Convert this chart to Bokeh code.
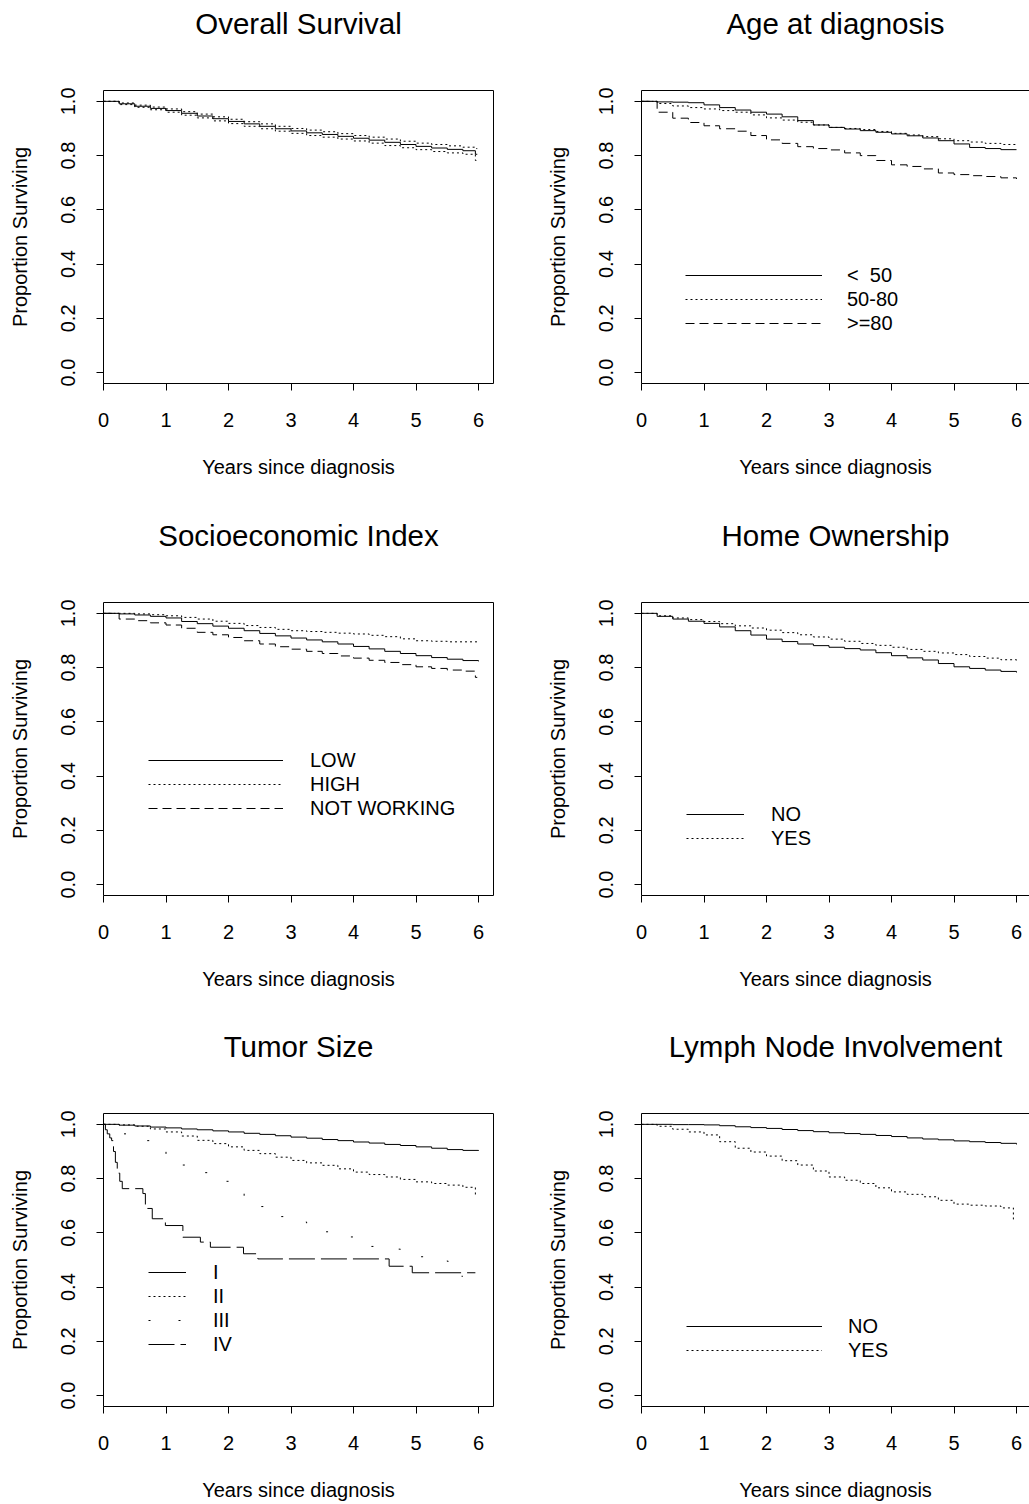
from bokeh.plotting import figure
from bokeh.models import (Range1d, LinearAxis, FixedTicker, PrintfTickFormatter,
                          Legend, LegendItem)
from bokeh.layouts import gridplot
from bokeh.embed import file_html
from bokeh.resources import INLINE

# ---------------- data ----------------
grid_t = [0, .25, .5, .75, 1, 1.25, 1.5, 1.75, 2, 2.25, 2.5, 2.75, 3, 3.25, 3.5,
          3.75, 4, 4.25, 4.5, 4.75, 5, 5.25, 5.5, 5.75, 6]

# Overall survival with confidence band
os_t = [0, .25, .5, .75, 1, 1.25, 1.5, 1.75, 2, 2.25, 2.5, 2.75, 3, 3.25, 3.5,
        3.75, 4, 4.25, 4.5, 4.75, 5, 5.25, 5.5, 5.75, 5.95, 5.98]
os_est = [1.000, .991, .982, .974, .966, .956, .946, .936, .926, .917, .908, .899, .891,
          .884, .878, .871, .864, .857, .849, .841, .834, .828, .823, .818, .805, .805]
os_hi = [1.000, .994, .986, .979, .972, .962, .953, .943, .934, .925, .917, .908, .900,
         .894, .888, .881, .874, .868, .861, .853, .846, .841, .836, .831, .826, .826]
os_lo = [1.000, .988, .978, .969, .960, .949, .939, .928, .918, .908, .899, .890, .882,
         .874, .868, .861, .854, .846, .837, .829, .822, .815, .810, .805, .782, .782]

# Age at diagnosis
age_labels = ["<  50", "50-80", ">=80"]
age_lt50 = [1.0, .998, .997, .995, .987, .977, .968, .960, .953, .943, .929, .913, .904,
            .898, .892, .886, .880, .873, .865, .855, .843, .830, .826, .822, .822]
age_50_80 = [1.0, .992, .983, .977, .972, .966, .960, .950, .939, .931, .923, .913, .904,
             .900, .896, .889, .882, .876, .870, .862, .855, .850, .845, .841, .837]
age_ge80 = [1.0, .960, .938, .922, .910, .899, .890, .874, .858, .845, .833, .826, .821,
            .810, .800, .782, .766, .760, .751, .736, .730, .726, .723, .718, .714]

# Socioeconomic index
ses_labels = ["LOW", "HIGH", "NOT WORKING"]
ses_low = [1.0, .998, .994, .989, .983, .970, .962, .953, .945, .936, .926, .917, .909,
           .902, .895, .887, .878, .869, .860, .852, .844, .837, .831, .826, .823]
ses_high = [1.0, 1.0, .998, .995, .991, .985, .979, .971, .963, .955, .948, .941, .936,
            .933, .930, .927, .924, .919, .914, .906, .899, .897, .895, .895, .895]
ses_nw_t = [0, .25, .5, .75, 1, 1.25, 1.5, 1.75, 2, 2.25, 2.5, 2.75, 3, 3.25, 3.5,
            3.75, 4, 4.25, 4.5, 4.75, 5, 5.25, 5.5, 5.75, 5.95, 5.98]
ses_nw = [1.0, .979, .973, .965, .957, .945, .930, .921, .911, .899, .887, .877, .868,
          .860, .852, .843, .835, .827, .819, .811, .803, .797, .791, .787, .764, .764]

# Home ownership
home_labels = ["NO", "YES"]
home_no = [1.0, .989, .979, .971, .963, .950, .936, .920, .905, .896, .887, .881, .875,
           .870, .865, .855, .844, .836, .828, .815, .803, .797, .791, .786, .782]
home_yes = [1.0, .991, .983, .977, .970, .962, .954, .946, .938, .929, .921, .913, .905,
            .897, .889, .882, .875, .867, .860, .854, .848, .841, .835, .829, .823]

# Tumor size
tum_labels = ["I", "II", "III", "IV"]
tum_i = [1.0, .997, .994, .990, .987, .983, .980, .976, .972, .967, .963, .958, .953,
         .949, .944, .940, .935, .931, .926, .922, .917, .912, .907, .904, .902]
tum_ii_t = [0, .25, .5, .75, 1, 1.25, 1.5, 1.75, 2, 2.25, 2.5, 2.75, 3, 3.25, 3.5,
            3.75, 4, 4.25, 4.5, 4.75, 5, 5.25, 5.5, 5.75, 5.95, 5.98]
tum_ii = [1.0, .998, .993, .983, .972, .957, .941, .929, .917, .904, .892, .879, .867,
          .858, .849, .836, .824, .815, .806, .797, .788, .782, .776, .768, .739, .739]
tum_iii_t = [0, .25, .5, .75, 1, 1.25, 1.5, 1.75, 2, 2.25, 2.5, 2.75, 3, 3.25, 3.5,
             3.75, 4, 4.25, 4.5, 4.75, 5, 5.25, 5.5, 5.7, 5.75]
tum_iii = [1.0, .965, .940, .915, .888, .850, .822, .790, .760, .728, .697, .660, .640,
           .625, .604, .585, .568, .550, .540, .528, .512, .503, .495, .440, .440]
tum_iv_t = [0, .03, .06, .10, .13, .16, .19, .22, .26, .30, .63, .67, .78, .99, 1.27,
            1.55, 1.71, 2.24, 2.47, 4.57, 4.94, 5.95]
tum_iv = [1.0, .980, .965, .950, .940, .900, .860, .820, .790, .763, .745, .690, .652,
          .627, .584, .566, .547, .523, .504, .477, .453, .453]

# Lymph node involvement
lym_labels = ["NO", "YES"]
lym_no = [1.0, 1.0, .999, .999, .998, .995, .991, .988, .985, .981, .977, .973, .969,
          .966, .963, .959, .955, .950, .946, .943, .939, .936, .933, .930, .926]
lym_yes_t = [0, .25, .5, .75, 1, 1.25, 1.5, 1.75, 2, 2.25, 2.5, 2.75, 3, 3.25, 3.5,
             3.75, 4, 4.25, 4.5, 4.75, 5, 5.25, 5.5, 5.75, 5.95, 5.98]
lym_yes = [1.0, .993, .982, .972, .961, .936, .912, .898, .883, .866, .850, .828, .806,
           .794, .782, .766, .751, .742, .733, .720, .706, .702, .699, .692, .650, .650]

x_ticks = [0, 1, 2, 3, 4, 5, 6]
y_ticks = [0.0, 0.2, 0.4, 0.6, 0.8, 1.0]

# ---------------- styling ----------------
FONT = "Liberation Sans"
AX_FS = "20px"
TITLE_FS = "29.5px"
SOLID, DOTTED, DASHED = "solid", "2 3", "9 5"
SPARSE, LONGDASH = "2 28", "26 6"

ROW_H = [512, 512, 480]
ROW_TOP = [90, 90, 89]
FRAME_H = 293


def border_axis(label=None):
    ax = LinearAxis(ticker=FixedTicker(ticks=[]), major_tick_out=0, major_tick_in=0,
                    minor_tick_out=0, minor_tick_in=0, major_label_standoff=0,
                    axis_line_color="black", axis_line_width=1,
                    major_tick_line_color=None, minor_tick_line_color=None,
                    major_label_text_font_size="0px")
    if label:
        ax.axis_label = label
        ax.axis_label_text_font = FONT
        ax.axis_label_text_font_size = TITLE_FS
        ax.axis_label_text_font_style = "normal"
        ax.axis_label_text_color = "black"
        ax.axis_label_standoff = 51
    return ax


def make_panel(title, row, col, curves, legend=None):
    left = col == 0
    width = 538 if left else 491
    height = ROW_H[row]
    top = ROW_TOP[row]
    bottom = height - top - FRAME_H
    p = figure(width=width, height=height,
               x_range=Range1d(0, 6.24 if left else 6.208),
               y_range=Range1d(-0.04, 1.04),
               output_backend="svg", toolbar_location=None,
               min_border_left=103,
               min_border_right=45 if left else 0,
               min_border_top=top, min_border_bottom=bottom)
    p.outline_line_color = None
    p.grid.visible = False
    p.background_fill_color = "white"
    p.border_fill_color = "white"

    xa = p.xaxis[0]
    xa.ticker = FixedTicker(ticks=x_ticks)
    xa.axis_label = "Years since diagnosis"
    ya = p.yaxis[0]
    ya.ticker = FixedTicker(ticks=y_ticks)
    ya.formatter = PrintfTickFormatter(format="%.1f")
    ya.major_label_orientation = "vertical"
    ya.axis_label = "Proportion Surviving"
    for ax in (xa, ya):
        ax.axis_line_color = "black"
        ax.major_tick_line_color = "black"
        ax.minor_tick_line_color = None
        ax.major_tick_out = 7
        ax.major_tick_in = 0
        ax.major_label_text_font = FONT
        ax.major_label_text_font_size = AX_FS
        ax.major_label_text_color = "black"
        ax.axis_label_text_font = FONT
        ax.axis_label_text_font_size = AX_FS
        ax.axis_label_text_font_style = "normal"
        ax.axis_label_text_color = "black"
    xa.major_label_standoff = 22
    xa.axis_label_standoff = 26
    ya.major_label_standoff = 21
    ya.axis_label_standoff = 28

    # top side of the box, carrying the panel title
    p.add_layout(border_axis(title), "above")
    if left:
        p.add_layout(border_axis(), "right")

    rends = []
    for t, s, dash in curves:
        r = p.step(t, s, mode="after", line_color="black", line_width=1, line_dash=dash)
        rends.append(r)

    if legend is not None:
        labels, loc, gw, ls = legend
        items = [LegendItem(label=lab, renderers=[r]) for lab, r in zip(labels, rends)]
        leg = Legend(items=items, location=loc, orientation="vertical",
                     border_line_color=None, background_fill_alpha=0,
                     glyph_width=gw, glyph_height=24, label_height=24,
                     label_standoff=ls, spacing=0, padding=0, margin=0,
                     label_text_font=FONT, label_text_font_size=AX_FS,
                     label_text_color="black")
        p.add_layout(leg)
    return p


p1 = make_panel("Overall Survival", 0, 0,
                [(os_t, os_est, SOLID), (os_t, os_hi, DOTTED), (os_t, os_lo, DOTTED)])
p2 = make_panel("Age at diagnosis", 0, 1,
                [(grid_t, age_lt50, SOLID), (grid_t, age_50_80, DOTTED),
                 (grid_t, age_ge80, DASHED)],
                (age_labels, (44, 48), 137, 25))
p3 = make_panel("Socioeconomic Index", 1, 0,
                [(grid_t, ses_low, SOLID), (grid_t, ses_high, DOTTED),
                 (ses_nw_t, ses_nw, DASHED)],
                (ses_labels, (45, 75), 135, 27))
p4 = make_panel("Home Ownership", 1, 1,
                [(grid_t, home_no, SOLID), (grid_t, home_yes, DOTTED)],
                (home_labels, (45, 45), 58, 27))
p5 = make_panel("Tumor Size", 2, 0,
                [(grid_t, tum_i, SOLID), (tum_ii_t, tum_ii, DOTTED),
                 (tum_iii_t, tum_iii, SPARSE), (tum_iv_t, tum_iv, LONGDASH)],
                (tum_labels, (45, 50), 38, 27))
p6 = make_panel("Lymph Node Involvement", 2, 1,
                [(grid_t, lym_no, SOLID), (lym_yes_t, lym_yes, DOTTED)],
                (lym_labels, (45, 44), 136, 26))

grid = gridplot([[p1, p2], [p3, p4], [p5, p6]], toolbar_location=None)

open("out.html", "w").write(file_html(grid, INLINE))
